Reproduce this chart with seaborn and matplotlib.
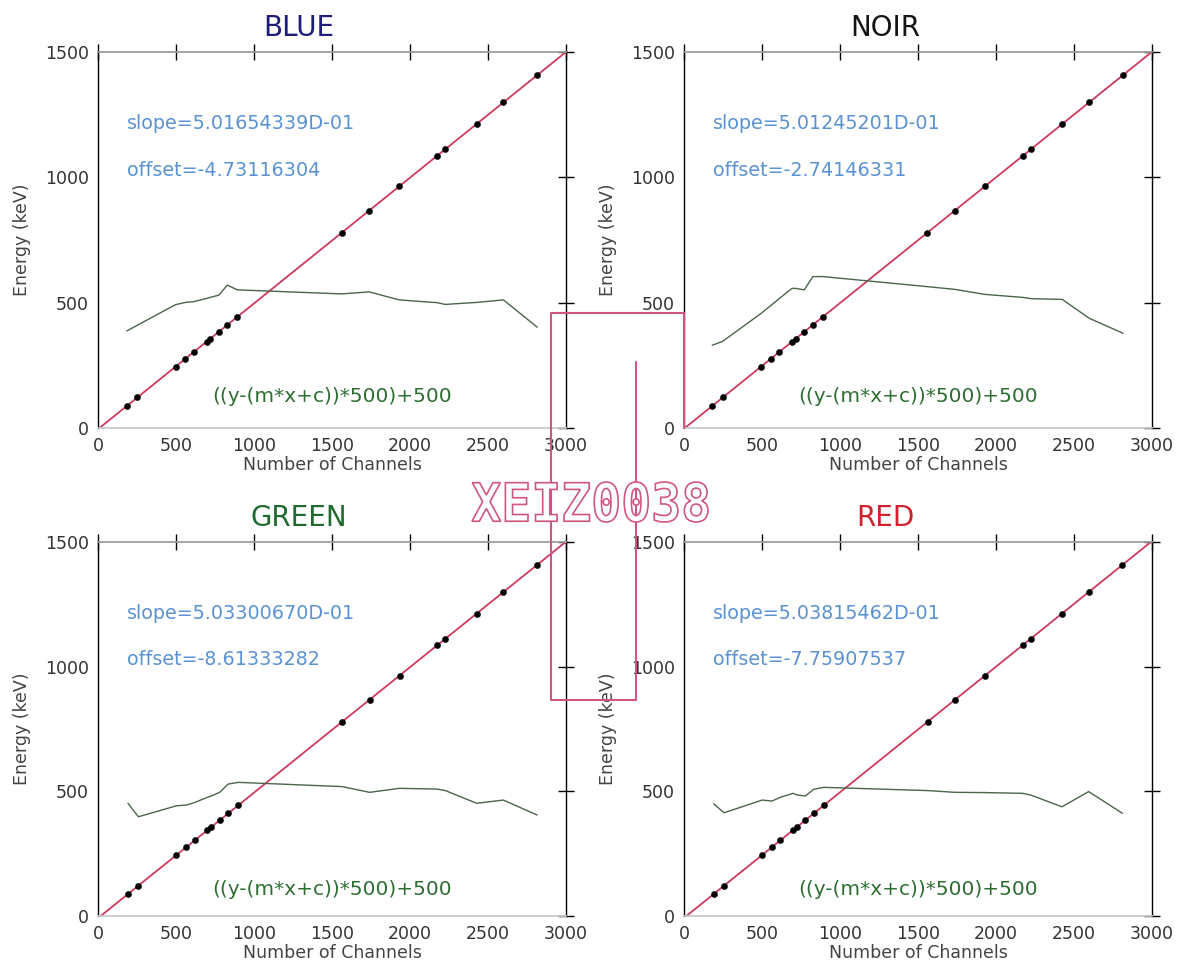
import numpy as np
import pandas as pd
import matplotlib
matplotlib.use("Agg")
import matplotlib.pyplot as plt
import seaborn as sns
from matplotlib.textpath import TextPath
from matplotlib.patches import PathPatch
from matplotlib.font_manager import FontProperties
from matplotlib.transforms import Affine2D
from matplotlib.lines import Line2D

sns.set_theme(style="white")
plt.rcParams["font.family"] = ["DejaVu Sans"]

# Detector names and title colours
detectors = ["BLUE", "NOIR", "GREEN", "RED"]
title_colors = ["#1e1e78", "#141414", "#1f6a2e", "#d2202e"]

# Linear calibration results (energy = slope * channel + offset)
slopes = [5.01654339e-01, 5.01245201e-01, 5.03300670e-01, 5.03815462e-01]
offsets = [-4.73116304, -2.74146331, -8.61333282, -7.75907537]

# Reference gamma-line energies (keV)
energies = [88.0, 121.78, 244.70, 276.40, 302.85, 344.28, 356.01, 383.85, 411.12,
            443.96, 778.90, 867.38, 964.08, 1085.84, 1112.08, 1212.95, 1299.14, 1408.01]

# Peak positions found in each detector (channel)
channels_blue = [185, 252, 497, 560, 613, 696, 719, 775, 829, 894,
                 1562, 1739, 1931, 2174, 2226, 2427, 2599, 2816]
channels_noir = [181, 248, 494, 557, 610, 692, 716, 771, 826, 891,
                 1559, 1736, 1929, 2172, 2224, 2425, 2597, 2814]
channels_green = [192, 259, 503, 566, 619, 701, 725, 780, 834, 899,
                  1565, 1741, 1933, 2175, 2227, 2427, 2598, 2815]
channels_red = [190, 257, 501, 564, 617, 699, 722, 777, 831, 897,
                1561, 1737, 1929, 2171, 2223, 2423, 2594, 2810]

# Scaled fit residuals ((y-(m*x+c))*500)+500 at each peak
resid_blue = [387, 410, 492, 501, 504, 517, 521, 530, 570, 551,
              535, 543, 511, 500, 493, 501, 511, 402]
resid_noir = [330, 346, 457, 489, 516, 557, 557, 551, 604, 604,
              564, 553, 533, 521, 516, 513, 438, 378]
resid_green = [452, 398, 442, 445, 455, 476, 481, 496, 529, 536,
               519, 496, 512, 509, 503, 452, 465, 405]
resid_red = [450, 414, 465, 461, 476, 492, 486, 481, 508, 516,
             503, 496, 495, 492, 485, 438, 499, 412]

x_ticks = [0, 500, 1000, 1500, 2000, 2500, 3000]
y_ticks = [0, 500, 1000, 1500]
formula = "((y-(m*x+c))*500)+500"

channels = [channels_blue, channels_noir, channels_green, channels_red]
residuals = [resid_blue, resid_noir, resid_green, resid_red]

W, H = 1181, 977
fig = plt.figure(figsize=(W / 100, H / 100), dpi=100)
fig.patch.set_facecolor("white")


def px_rect(x0, ytop, x1, ybot):
    return [x0 / W, 1 - ybot / H, (x1 - x0) / W, (ybot - ytop) / H]


rects = [px_rect(98, 52, 566, 428), px_rect(684, 52, 1152, 428),
         px_rect(98, 542, 566, 916), px_rect(684, 542, 1152, 916)]
formula_y = [0.085, 0.085, 0.07, 0.07]

fit_color = "#cf3a5c"
resid_color = "#4a654a"
info_color = "#5a92d2"
formula_color = "#2f6e33"
tick_color = "#333333"

for i, name in enumerate(detectors):
    ax = fig.add_axes(rects[i])
    m, c = slopes[i], offsets[i]

    fit = pd.DataFrame({"channel": [0, 3000]})
    fit["energy"] = m * fit["channel"] + c
    sns.lineplot(data=fit, x="channel", y="energy", ax=ax, color=fit_color,
                 linewidth=1.3, zorder=2)

    pts = pd.DataFrame({"channel": channels[i], "energy": energies,
                        "resid": residuals[i]})
    sns.lineplot(data=pts, x="channel", y="resid", ax=ax, color=resid_color,
                 linewidth=1.0, sort=False, estimator=None, zorder=2)
    sns.scatterplot(data=pts, x="channel", y="energy", ax=ax, color="black",
                    s=20, edgecolor="black", linewidth=0.3, zorder=3)

    ax.set_xlim(0, 3000)
    ax.set_ylim(0, 1500)
    ax.set_xticks(x_ticks)
    ax.set_yticks(y_ticks)
    ax.tick_params(direction="inout", length=11, width=1.0, top=True, right=True,
                   labelsize=12.5, colors="black", labelcolor=tick_color, pad=1)
    ax.set_xlabel("Number of Channels", fontsize=12.5, color="#444444", labelpad=1)
    ax.set_ylabel("Energy (keV)", fontsize=12.5, color="#444444", labelpad=10)
    for side in ("left", "right"):
        ax.spines[side].set_color("black")
        ax.spines[side].set_linewidth(1.0)
    ax.spines["top"].set_color("#9a9a9a")
    ax.spines["bottom"].set_color("#c8c8c8")
    ax.grid(False)
    ax.set_facecolor("white")

    ax.text(0.43, 1.064, name, transform=ax.transAxes, ha="center", va="center",
            fontsize=20, color=title_colors[i])
    slope_txt = "slope=" + f"{m:.8E}".replace("E", "D")
    offset_txt = f"offset={c:.8f}"
    ax.text(0.062, 0.81, slope_txt, transform=ax.transAxes, ha="left",
            va="center", fontsize=13.8, color=info_color)
    ax.text(0.062, 0.685, offset_txt, transform=ax.transAxes, ha="left",
            va="center", fontsize=13.8, color=info_color)
    ax.text(0.5, formula_y[i], formula, transform=ax.transAxes, ha="center",
            va="center", fontsize=14.5, color=formula_color)

# Pink routing frame between the panels
pink = "#cf5684"
frame_x = [684, 684, 551, 551, 636, 636]
frame_y = [428, 313, 313, 700, 700, 362]
fig.add_artist(Line2D([x / W for x in frame_x], [1 - y / H for y in frame_y],
                      transform=fig.transFigure, color=pink, linewidth=1.5,
                      zorder=5))

# Outlined stamp text
stamp = TextPath((0, 0), "XEIZ0038", size=40,
                 prop=FontProperties(family="DejaVu Sans Mono", weight="bold"))
bb = stamp.get_extents()
x0, x1, ytop, ybot = 472, 708, 482, 522
sx = (x1 - x0) / W / bb.width
sy = (ybot - ytop) / H / bb.height
tr = (Affine2D().translate(-bb.x0, -bb.y0).scale(sx, sy)
      .translate(x0 / W, 1 - ybot / H) + fig.transFigure)
fig.add_artist(PathPatch(stamp, transform=tr, facecolor="white",
                         edgecolor=pink, linewidth=1.2, zorder=6))

fig.savefig("out.png", dpi=100, facecolor="white")
